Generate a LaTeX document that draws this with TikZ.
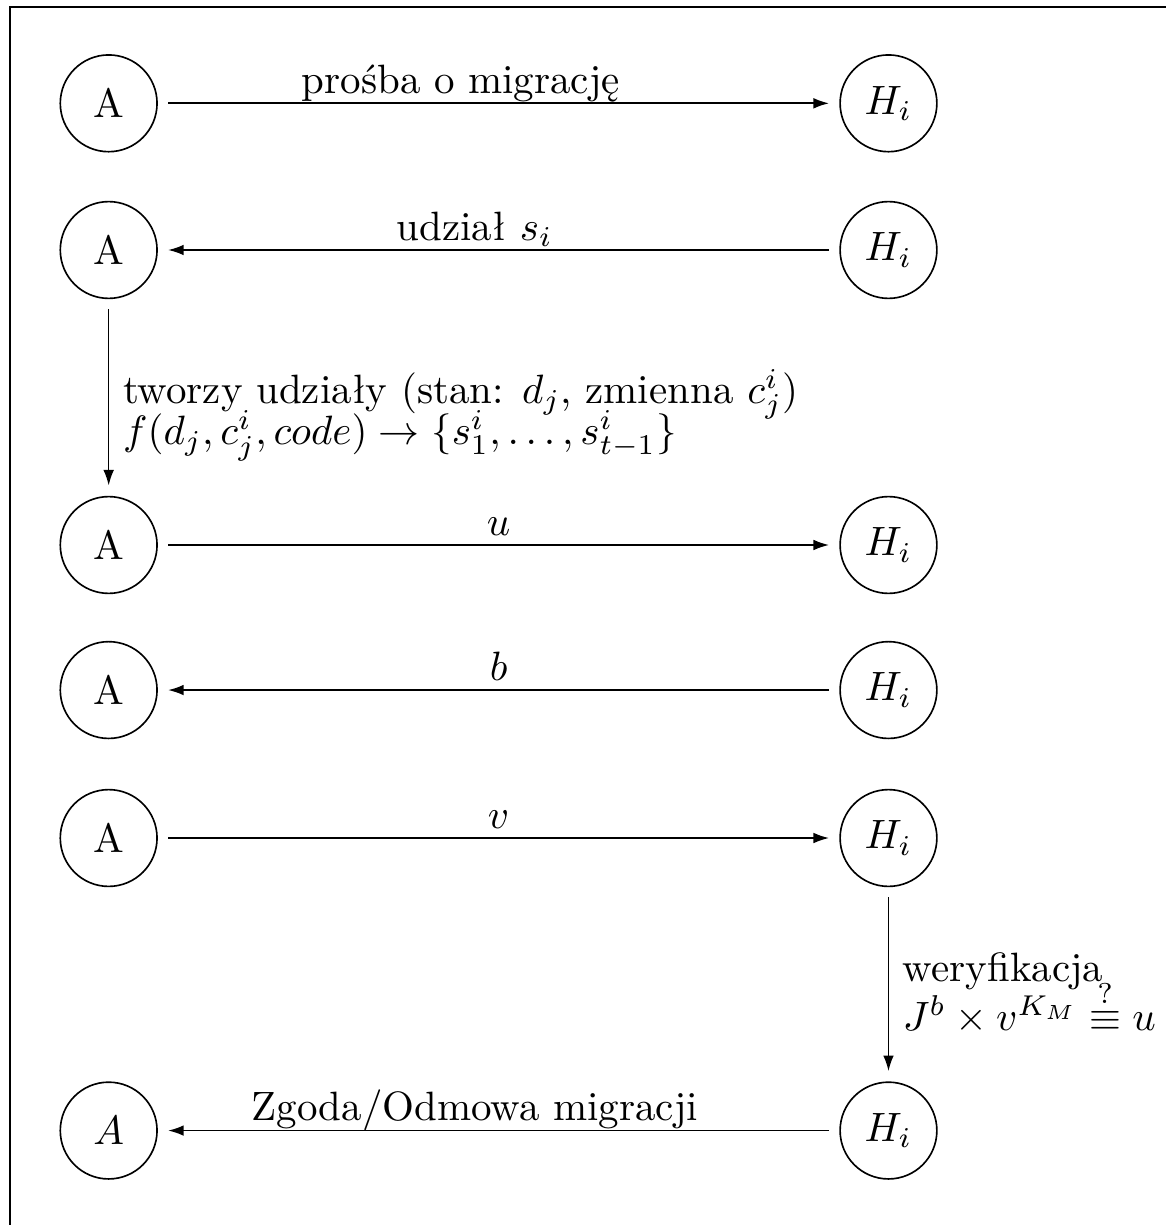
\documentclass[tikz,border=0pt]{standalone}
\usepackage{amsmath, amssymb}
\usetikzlibrary{arrows.meta}
\newcommand{\tightlines}{\lineskiplimit=-20pt\relax}

\begin{document}
\begin{tikzpicture}[
  party/.style={draw, circle, minimum size=0.83cm, inner sep=0pt, outer sep=2.7pt},
  msg/.style={-{Latex[length=3.8pt, width=2.6pt]}},
  lbl/.style={anchor=base, yshift=2.4pt, inner sep=0pt},
  note/.style={right, align=left, font=\tightlines}
]
  \useasboundingbox (0,0) rectangle (10,-10.506);
  \draw (0.086,-0.06) rectangle (10.6,-11);

  \node[party] (a1) at (0.932, -0.886) {A};
  \node[party] (h1) at (7.62, -0.886) {$H_i$};
  \node[party] (a2) at (0.932, -2.144) {A};
  \node[party] (h2) at (7.62, -2.144) {$H_i$};
  \node[party] (a3) at (0.932, -4.674) {A};
  \node[party] (h3) at (7.62, -4.674) {$H_i$};
  \node[party] (a4) at (0.932, -5.918) {A};
  \node[party] (h4) at (7.62, -5.918) {$H_i$};
  \node[party] (a5) at (0.932, -7.187) {A};
  \node[party] (h5) at (7.62, -7.187) {$H_i$};
  \node[party] (a6) at (0.932, -9.696) {$A$};
  \node[party] (h6) at (7.62, -9.696) {$H_i$};

  \draw[msg] (a1) -- node[lbl, pos=0.443] {prośba o migrację} (h1);
  \draw[msg] (h2) -- node[lbl, pos=0.536] {udział $s_i$} (a2);
  \draw[msg] (a2) -- node[note, pos=0.6] {tworzy udziały (stan: $d_j$, zmienna $c^i_j$)\\[-1.8pt]
    $f(d_j, c^i_j, code) \rightarrow \{s^i_1, \ldots, s^i_{t-1}\}$} (a3);
  \draw[msg] (a3) -- node[lbl] {$u$} (h3);
  \draw[msg] (h4) -- node[lbl] {$b$} (a4);
  \draw[msg] (a5) -- node[lbl] {$v$} (h5);
  \draw[msg] (h5) -- node[note, pos=0.55] {weryfikacja\\
    $J^b \times v^{K_M} \stackrel{?}{\equiv} u$} (h6);
  \draw[msg] (h6) -- node[lbl, pos=0.536] {Zgoda/Odmowa migracji} (a6);
\end{tikzpicture}
\end{document}
